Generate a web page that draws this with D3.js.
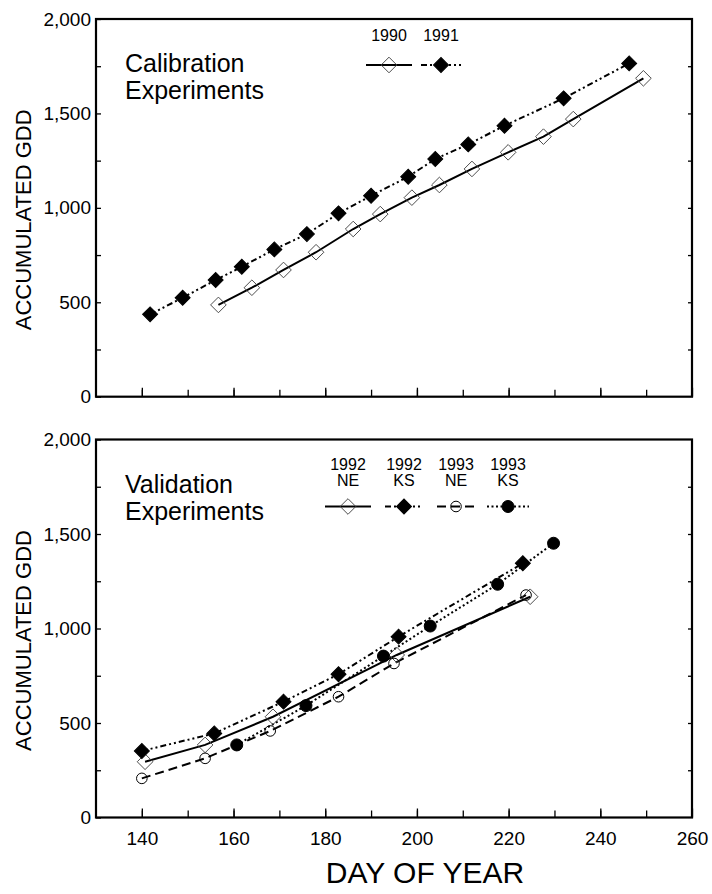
<!DOCTYPE html>
<html>
<head>
<meta charset="utf-8">
<script src="https://d3js.org/d3.v7.min.js"></script>
<style>
  body { margin: 0; background: #fff; }
  text { font-family: "Liberation Sans", Arial, Helvetica, sans-serif; fill: #000; }
</style>
</head>
<body>
<div id="chart"></div>
<script>
// ---- data ----
var days1990 = [156.7, 164, 170.9, 178, 186.1, 192, 198.9, 204.9, 212, 219.9, 227.6, 234.1, 249.4];
var gdd1990  = [486, 577, 671, 765, 888, 967, 1054, 1121, 1206, 1294, 1377, 1470, 1686];

var days1991 = [141.8, 148.9, 156.1, 161.8, 168.9, 176, 182.9, 190, 198.1, 204, 211.2, 219.1, 232, 246.3];
var gdd1991  = [436, 524, 618, 688, 780, 861, 971, 1064, 1165, 1259, 1336, 1435, 1580, 1765];

var days1992NE = [140.7, 153.8, 168.6, 195.6, 224.7];
var gdd1992NE  = [295, 384, 533, 860, 1168];

var days1992KS = [140, 155.8, 170.9, 182.9, 196, 223.1];
var gdd1992KS  = [352, 445, 613, 758, 957, 1345];

var days1993NE = [140, 153.8, 168, 182.9, 195, 223.8];
var gdd1993NE  = [207, 313, 458, 639, 815, 1177];

var days1993KS = [160.7, 175.8, 192.7, 202.9, 217.6, 229.8];
var gdd1993KS  = [384, 592, 854, 1013, 1234, 1451];

var xTicks = [140, 160, 180, 200, 220, 240, 260];
var yTicks = [0, 500, 1000, 1500, 2000];

function zip(days, gdd) {
    return days.map(function (d, i) { return { day: d, gdd: gdd[i] }; });
}

// line / marker styles
var styles = {
    openDiamond:  { dash: null,          marker: "diamond", fill: "none", stroke: "#444" },
    fillDiamond:  { dash: "6,3,2,3,2,3", marker: "diamond", fill: "#000", stroke: "#000" },
    openCircle:   { dash: "9,5",         marker: "circle",  fill: "none", stroke: "#000" },
    fillCircle:   { dash: "2,2.5",       marker: "circle",  fill: "#000", stroke: "#000" }
};

var W = 712, H = 894;
var x = d3.scaleLinear().domain([130, 260]).range([96, 692]);

var svg = d3.select("#chart").append("svg")
    .attr("width", W)
    .attr("height", H);

function drawMarker(g, type, st, cx, cy) {
    if (type === "diamond") {
        g.append("path")
            .attr("d", d3.symbol().type(d3.symbolSquare).size(st.fill === "none" ? 122 : 112)())
            .attr("transform", "translate(" + cx + "," + cy + ") rotate(45)")
            .attr("fill", st.fill)
            .attr("stroke", st.stroke)
            .attr("stroke-width", st.fill === "none" ? 0.9 : 1);
    } else {
        g.append("circle")
            .attr("cx", cx).attr("cy", cy)
            .attr("r", st.fill === "none" ? 5.3 : 6)
            .attr("fill", st.fill)
            .attr("stroke", st.stroke)
            .attr("stroke-width", 1);
    }
}

function drawPanel(top, bottom, series, titleLines, legend, showX) {
    var y = d3.scaleLinear().domain([0, 2000]).range([bottom, top]);
    var g = svg.append("g");

    // minor + major y ticks (inward), left and right
    g.append("g")
        .attr("transform", "translate(" + x.range()[0] + ",0)")
        .call(d3.axisLeft(y).tickValues(d3.range(0, 2001, 250)).tickSize(-5).tickFormat(""))
        .call(function (a) { a.select(".domain").remove(); });
    g.append("g")
        .attr("transform", "translate(" + x.range()[0] + ",0)")
        .call(d3.axisLeft(y).tickValues(yTicks).tickSize(0).tickPadding(5).tickFormat(d3.format(",")))
        .call(function (a) {
            a.select(".domain").remove();
            a.selectAll("text").style("font-size", "19px").attr("fill", "#000");
        });
    g.append("g")
        .attr("transform", "translate(" + x.range()[1] + ",0)")
        .call(d3.axisRight(y).tickValues(d3.range(250, 2000, 250)).tickSize(-4).tickFormat(""))
        .call(function (a) { a.select(".domain").remove(); });

    // x ticks (inward)
    g.append("g")
        .attr("transform", "translate(0," + bottom + ")")
        .call(d3.axisBottom(x).tickValues(d3.range(140, 260, 10)).tickSize(-7).tickFormat(""))
        .call(function (a) { a.select(".domain").remove(); });
    var xa = g.append("g")
        .attr("transform", "translate(0," + bottom + ")")
        .call(d3.axisBottom(x).tickValues(xTicks).tickSize(-9).tickPadding(14)
            .tickFormat(showX ? d3.format("d") : ""));
    xa.select(".domain").remove();
    xa.selectAll("text").style("font-size", "19px").attr("fill", "#000");
    g.selectAll(".tick line").attr("stroke", "#000").attr("stroke-width", 1.3);

    // frame
    g.append("rect")
        .attr("x", x.range()[0]).attr("y", top)
        .attr("width", x.range()[1] - x.range()[0])
        .attr("height", bottom - top)
        .attr("fill", "none")
        .attr("stroke", "#000")
        .attr("stroke-width", 2.2);

    // y axis title
    g.append("text")
        .attr("transform", "translate(31," + ((top + bottom) / 2 + 12) + ") rotate(-90)")
        .attr("text-anchor", "middle")
        .style("font-size", "22px")
        .text("ACCUMULATED GDD");

    // panel title
    titleLines.forEach(function (t, i) {
        g.append("text")
            .attr("x", 125)
            .attr("y", top + 53 + i * 27)
            .style("font-size", "25px")
            .text(t);
    });

    var line = d3.line()
        .x(function (d) { return x(d.day); })
        .y(function (d) { return y(d.gdd); });

    series.forEach(function (s) {
        g.append("path")
            .datum(s.data)
            .attr("d", line)
            .attr("fill", "none")
            .attr("stroke", "#000")
            .attr("stroke-width", 2)
            .attr("stroke-dasharray", s.style.dash);
    });
    series.forEach(function (s) {
        s.data.forEach(function (d) {
            drawMarker(g, s.style.marker, s.style, x(d.day), y(d.gdd));
        });
    });

    // legend
    legend.items.forEach(function (it) {
        it.label.forEach(function (t, i) {
            g.append("text")
                .attr("x", it.cx)
                .attr("y", top + legend.labelY + i * 16.5)
                .attr("text-anchor", "middle")
                .style("font-size", "16px")
                .text(t);
        });
        g.append("line")
            .attr("x1", it.cx - it.half).attr("x2", it.cx + it.half)
            .attr("y1", top + legend.lineY).attr("y2", top + legend.lineY)
            .attr("stroke", "#000")
            .attr("stroke-width", 2)
            .attr("stroke-dasharray", it.style.dash);
        drawMarker(g, it.style.marker, it.style, it.cx, top + legend.lineY);
    });
}

// calibration panel
drawPanel(19, 396.7,
    [
        { data: zip(days1990, gdd1990), style: styles.openDiamond },
        { data: zip(days1991, gdd1991), style: styles.fillDiamond }
    ],
    ["Calibration", "Experiments"],
    {
        labelY: 22, lineY: 46,
        items: [
            { label: ["1990"], cx: 389, half: 23, style: styles.openDiamond },
            { label: ["1991"], cx: 441, half: 20, style: styles.fillDiamond }
        ]
    },
    false);

// validation panel
drawPanel(439.5, 817.5,
    [
        { data: zip(days1992NE, gdd1992NE), style: styles.openDiamond },
        { data: zip(days1992KS, gdd1992KS), style: styles.fillDiamond },
        { data: zip(days1993NE, gdd1993NE), style: styles.openCircle },
        { data: zip(days1993KS, gdd1993KS), style: styles.fillCircle }
    ],
    ["Validation", "Experiments"],
    {
        labelY: 30, lineY: 67,
        items: [
            { label: ["1992", "NE"], cx: 348, half: 23, style: styles.openDiamond },
            { label: ["1992", "KS"], cx: 404, half: 19, style: styles.fillDiamond },
            { label: ["1993", "NE"], cx: 456, half: 19, style: styles.openCircle },
            { label: ["1993", "KS"], cx: 508, half: 21, style: styles.fillCircle }
        ]
    },
    true);

// x axis title
svg.append("text")
    .attr("x", 425)
    .attr("y", 883)
    .attr("text-anchor", "middle")
    .style("font-size", "30px")
    .text("DAY OF YEAR");
</script>
</body>
</html>
